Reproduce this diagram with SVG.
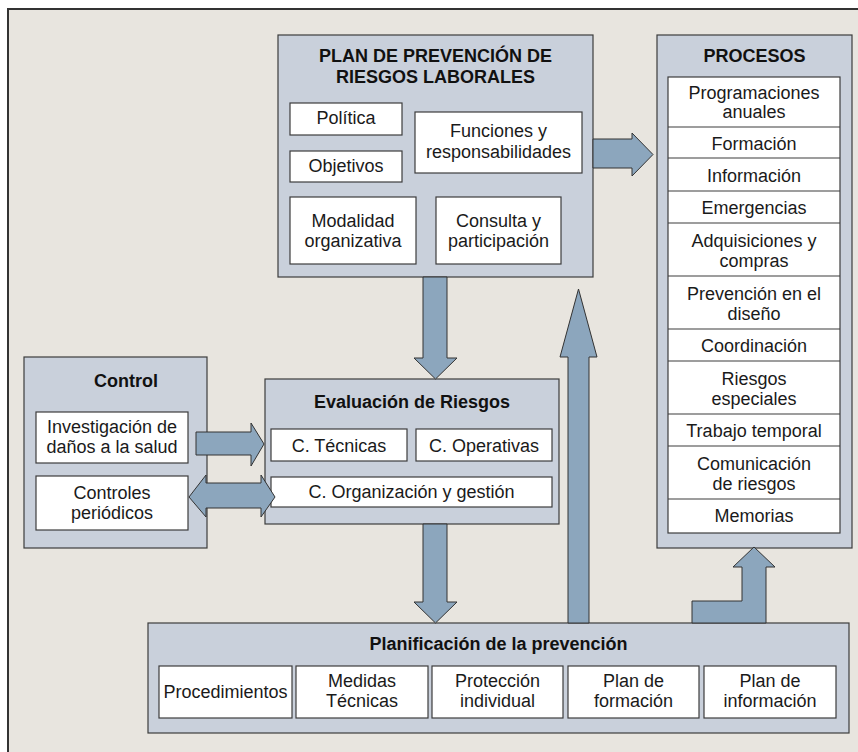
<svg xmlns="http://www.w3.org/2000/svg" width="858" height="752" viewBox="0 0 858 752">
<style>
.panel{fill:#c9d0db;stroke:#3c3c3c;stroke-width:1.2}
.item{fill:#ffffff;stroke:#3c3c3c;stroke-width:1.2}
.arrow{fill:#8ca6bd;stroke:#333333;stroke-width:1}
.t{font-family:"Liberation Sans",Arial,sans-serif;font-size:18px;fill:#1a1a1a;text-anchor:middle}
.h{font-family:"Liberation Sans",Arial,sans-serif;font-size:18px;font-weight:bold;fill:#111111;text-anchor:middle}
</style>
<rect x="0" y="0" width="858" height="752" fill="#ffffff"/>
<rect x="8" y="9" width="860" height="760" fill="#e8e5df" stroke="#333333" stroke-width="2"/>

<g id="plan">
<rect class="panel" x="278" y="35" width="315" height="242"/>
<text class="h" x="435.5" y="62">PLAN DE PREVENCIÓN DE</text>
<text class="h" x="435.5" y="83">RIESGOS LABORALES</text>
<rect class="item" x="290" y="103" width="112" height="32"/>
<text class="t" x="346" y="124">Política</text>
<rect class="item" x="290" y="151" width="112" height="31"/>
<text class="t" x="346" y="172">Objetivos</text>
<rect class="item" x="415" y="112" width="167" height="61"/>
<text class="t" x="498.5" y="137">Funciones y</text>
<text class="t" x="498.5" y="158">responsabilidades</text>
<rect class="item" x="290" y="197" width="126" height="67"/>
<text class="t" x="353" y="227">Modalidad</text>
<text class="t" x="353" y="247">organizativa</text>
<rect class="item" x="436" y="197" width="125" height="67"/>
<text class="t" x="498.5" y="227">Consulta y</text>
<text class="t" x="498.5" y="247">participación</text>
</g>

<g id="procesos">
<rect class="panel" x="657" y="35" width="195" height="513"/>
<text class="h" x="754.5" y="62">PROCESOS</text>
<rect class="item" x="668" y="77" width="172" height="456"/>
<path d="M668 127H840M668 158H840M668 191H840M668 223H840M668 276H840M668 329H840M668 361H840M668 414H840M668 446H840M668 499H840" stroke="#3c3c3c" stroke-width="1.2" fill="none"/>
<text class="t" x="754" y="99">Programaciones</text>
<text class="t" x="754" y="118">anuales</text>
<text class="t" x="754" y="150">Formación</text>
<text class="t" x="754" y="182">Información</text>
<text class="t" x="754" y="214">Emergencias</text>
<text class="t" x="754" y="247">Adquisiciones y</text>
<text class="t" x="754" y="267">compras</text>
<text class="t" x="754" y="300">Prevención en el</text>
<text class="t" x="754" y="320">diseño</text>
<text class="t" x="754" y="352">Coordinación</text>
<text class="t" x="754" y="385">Riesgos</text>
<text class="t" x="754" y="405">especiales</text>
<text class="t" x="754" y="437">Trabajo temporal</text>
<text class="t" x="754" y="470">Comunicación</text>
<text class="t" x="754" y="490">de riesgos</text>
<text class="t" x="754" y="522">Memorias</text>
</g>

<g id="control">
<rect class="panel" x="24" y="357" width="183" height="191"/>
<text class="h" x="126" y="387">Control</text>
<rect class="item" x="36" y="412" width="152" height="51"/>
<text class="t" x="112" y="433">Investigación de</text>
<text class="t" x="112" y="453">daños a la salud</text>
<rect class="item" x="36" y="476" width="152" height="54"/>
<text class="t" x="112" y="499">Controles</text>
<text class="t" x="112" y="519">periódicos</text>
</g>

<g id="evaluacion">
<rect class="panel" x="265" y="379" width="294" height="145"/>
<text class="h" x="412" y="408">Evaluación de Riesgos</text>
<rect class="item" x="271" y="429" width="136" height="32"/>
<text class="t" x="339" y="452">C. Técnicas</text>
<rect class="item" x="416" y="429" width="136" height="32"/>
<text class="t" x="484" y="452">C. Operativas</text>
<rect class="item" x="271" y="477" width="281" height="30"/>
<text class="t" x="411.5" y="498">C. Organización y gestión</text>
</g>

<g id="planificacion">
<rect class="panel" x="148" y="623" width="701" height="110"/>
<text class="h" x="498.5" y="650">Planificación de la prevención</text>
<rect class="item" x="159" y="666" width="133" height="52"/>
<text class="t" x="225.5" y="698">Procedimientos</text>
<rect class="item" x="296" y="666" width="132" height="52"/>
<text class="t" x="362" y="687">Medidas</text>
<text class="t" x="362" y="707">Técnicas</text>
<rect class="item" x="432" y="666" width="131" height="52"/>
<text class="t" x="497.5" y="687">Protección</text>
<text class="t" x="497.5" y="707">individual</text>
<rect class="item" x="568" y="666" width="131" height="52"/>
<text class="t" x="633.5" y="687">Plan de</text>
<text class="t" x="633.5" y="707">formación</text>
<rect class="item" x="704" y="666" width="132" height="52"/>
<text class="t" x="770" y="687">Plan de</text>
<text class="t" x="770" y="707">información</text>
</g>

<g id="connectors">
<polygon class="arrow" points="593,139 632,139 632,133 653,154.5 632,176 632,168 593,168"/>
<polygon class="arrow" points="423,277 447,277 447,358 457,358 435.5,379 414,358 423,358"/>
<polygon class="arrow" points="423,524 447,524 447,602 457,602 435.5,623 414,602 423,602"/>
<polygon class="arrow" points="568,623 568,357 560,357 578.5,289 597,357 589,357 589,623"/>
<polygon class="arrow" points="692,623 692,601 742,601 742,567 733,567 754,547 775,567 766,567 766,623"/>
<polygon class="arrow" points="196,432 251,432 251,423 264,444 251,466 251,455 196,455"/>
<polygon class="arrow" points="189,497 206,475 206,483 261,483 261,475 275,497 261,517 261,508 206,508 206,517"/>
</g>
</svg>
